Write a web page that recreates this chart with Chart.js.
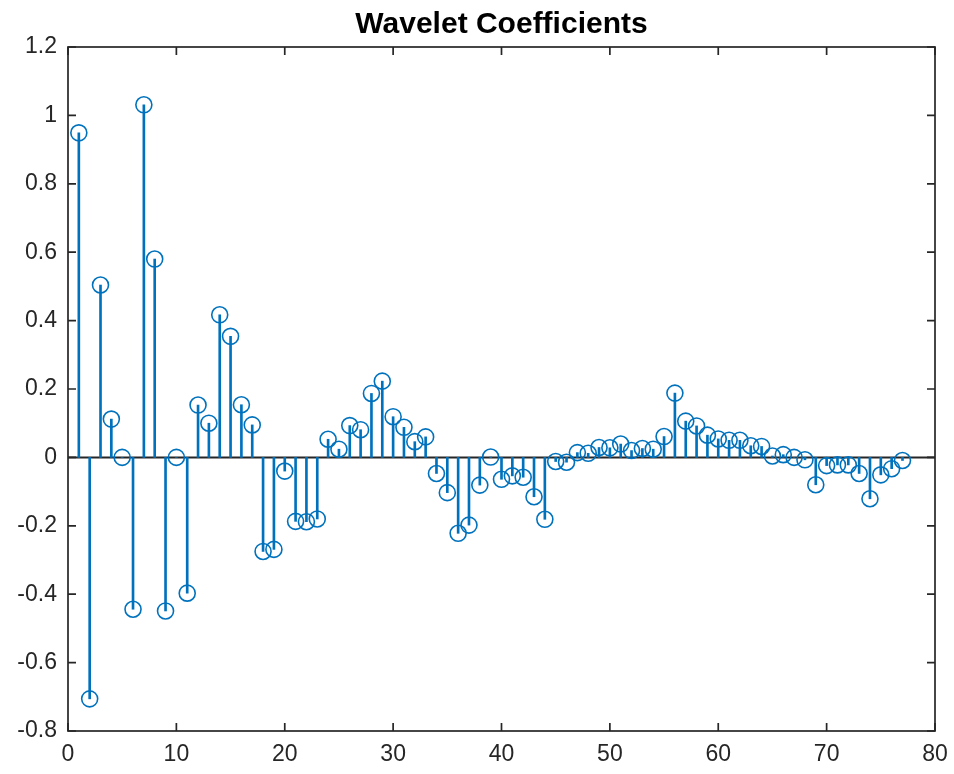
<!DOCTYPE html>
<html>
<head>
<meta charset="utf-8">
<script src="https://cdn.jsdelivr.net/npm/chart.js@4"></script>
<style>
  html, body { margin: 0; padding: 0; background: #fff; }
  #wrap { width: 954px; height: 774px; }
</style>
</head>
<body>
<div id="wrap"><canvas id="chart"></canvas></div>
<script>
// wavelet coefficient index (1..77) and value
const indices = [
  1, 2, 3, 4, 5, 6, 7, 8, 9, 10, 11, 12, 13, 14, 15, 16, 17, 18, 19, 20,
  21, 22, 23, 24, 25, 26, 27, 28, 29, 30, 31, 32, 33, 34, 35, 36, 37, 38, 39, 40,
  41, 42, 43, 44, 45, 46, 47, 48, 49, 50, 51, 52, 53, 54, 55, 56, 57, 58, 59, 60,
  61, 62, 63, 64, 65, 66, 67, 68, 69, 70, 71, 72, 73, 74, 75, 76, 77
];
const coefs = [
  0.949, -0.706, 0.504, 0.112, 0.0, -0.444, 1.031, 0.580, -0.449, 0.0,
  -0.397, 0.153, 0.100, 0.417, 0.354, 0.154, 0.095, -0.275, -0.269, -0.040,
  -0.187, -0.188, -0.180, 0.053, 0.024, 0.093, 0.081, 0.187, 0.223, 0.119,
  0.088, 0.046, 0.060, -0.047, -0.103, -0.222, -0.198, -0.081, 0.001, -0.064,
  -0.054, -0.058, -0.115, -0.181, -0.012, -0.014, 0.014, 0.012, 0.029, 0.028,
  0.039, 0.020, 0.026, 0.024, 0.061, 0.188, 0.106, 0.092, 0.065, 0.054,
  0.050, 0.050, 0.034, 0.032, 0.004, 0.008, 0.0, -0.007, -0.080, -0.024,
  -0.022, -0.022, -0.047, -0.121, -0.051, -0.033, -0.009
];
const xTicks = [0, 10, 20, 30, 40, 50, 60, 70, 80];
const yTicks = [-0.8, -0.6, -0.4, -0.2, 0, 0.2, 0.4, 0.6, 0.8, 1, 1.2];
const titleText = 'Wavelet Coefficients';

const blue = '#0072BD';
const axisColor = '#262626';
const fontFamily = 'Arial, "Liberation Sans", Helvetica, sans-serif';
const points = indices.map((x, i) => ({x: x, y: coefs[i]}));

// box, inward ticks, zero baseline and a title centred over the axes (matlab style)
const axesBox = {
  id: 'axesBox',
  beforeDatasetsDraw(chart) {
    const {ctx, chartArea: a, scales} = chart;
    const y0 = scales.y.getPixelForValue(0);
    ctx.save();
    ctx.strokeStyle = axisColor;
    ctx.lineWidth = 2;
    ctx.beginPath();
    ctx.moveTo(a.left, y0);
    ctx.lineTo(a.right, y0);
    ctx.stroke();
    ctx.restore();
  },
  afterDraw(chart) {
    const {ctx, chartArea: a, scales} = chart;
    const len = 8;
    ctx.save();
    ctx.strokeStyle = axisColor;
    ctx.lineWidth = 1.7;
    ctx.strokeRect(a.left, a.top, a.right - a.left, a.bottom - a.top);
    ctx.beginPath();
    xTicks.forEach(v => {
      const px = scales.x.getPixelForValue(v);
      ctx.moveTo(px, a.bottom); ctx.lineTo(px, a.bottom - len);
      ctx.moveTo(px, a.top); ctx.lineTo(px, a.top + len);
    });
    yTicks.forEach(v => {
      const py = scales.y.getPixelForValue(v);
      ctx.moveTo(a.left, py); ctx.lineTo(a.left + len, py);
      ctx.moveTo(a.right, py); ctx.lineTo(a.right - len, py);
    });
    ctx.stroke();

    ctx.fillStyle = '#000';
    ctx.font = 'bold 30px ' + fontFamily;
    ctx.textAlign = 'center';
    ctx.textBaseline = 'alphabetic';
    ctx.fillText(titleText, (a.left + a.right) / 2, 33);
    ctx.restore();
  }
};

const tickFont = {family: fontFamily, size: 23};

new Chart(document.getElementById('chart'), {
  data: {
    datasets: [
      {
        type: 'scatter',
        data: points,
        pointStyle: 'circle',
        pointRadius: 8,
        borderWidth: 1.6,
        borderColor: blue,
        backgroundColor: 'rgba(0,0,0,0)',
        order: 0
      },
      {
        type: 'bar',
        data: points,
        backgroundColor: blue,
        barThickness: 2,
        grouped: false,
        order: 1
      }
    ]
  },
  options: {
    responsive: true,
    maintainAspectRatio: false,
    animation: false,
    layout: {padding: {left: 0, right: 19, top: 47, bottom: 0}},
    plugins: {
      legend: {display: false},
      tooltip: {enabled: false},
      title: {display: false}
    },
    scales: {
      x: {
        type: 'linear',
        min: 0,
        max: 80,
        offset: false,
        grid: {display: false, drawTicks: false},
        border: {display: false},
        afterFit: s => { s.height = 43; s.paddingLeft = 0; s.paddingRight = 0; },
        afterBuildTicks: s => { s.ticks = xTicks.map(v => ({value: v})); },
        ticks: {color: axisColor, font: tickFont, padding: 10, maxRotation: 0,
                callback: v => String(v)}
      },
      y: {
        min: -0.8,
        max: 1.2,
        grid: {display: false, drawTicks: false},
        border: {display: false},
        afterFit: s => { s.width = 68; s.paddingTop = 0; s.paddingBottom = 0; },
        afterBuildTicks: s => { s.ticks = yTicks.map(v => ({value: v})); },
        ticks: {color: axisColor, font: tickFont, padding: 11,
                callback: v => String(Number(v.toFixed(1)))}
      }
    }
  },
  plugins: [axesBox]
});
</script>
</body>
</html>
